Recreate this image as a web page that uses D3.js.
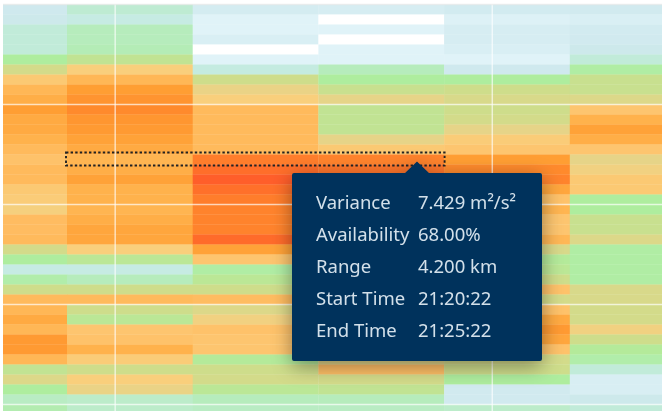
<!DOCTYPE html>
<html>
<head>
<meta charset="utf-8">
<script src="https://cdn.jsdelivr.net/npm/d3@7"></script>
<style>
  html, body { margin: 0; padding: 0; background: #fff; overflow: hidden; }
  svg { display: block; }
</style>
</head>
<body>
<div id="chart"></div>
<script>
// variance per range gate, top row first, one array per 5 minute scan
const scan1 = [2.0,2.1,2.6,2.6,2.6,3.5,4.1,5.2,5.8,6.1,6.5,6.2,6.2,6.0,5.7,5.4,5.7,5.7,5.2,5.1,4.9,5.6,5.6,5.7,4.1,3.5,2.4,3.3,4.0,5.7,5.8,6.2,5.8,6.6,6.6,5.8,3.8,4.3,3.5,2.9,3.2];
const scan2 = [2.7,2.4,3.0,3.0,3.1,3.8,5.0,5.8,6.5,6.75,7.0,6.7,6.6,6.4,6.2,5.9,6.1,6.4,6.0,6.0,5.9,6.1,6.3,6.3,5.0,3.7,2.4,3.0,4.0,5.7,4.0,3.7,5.3,5.4,6.0,5.1,4.0,5.0,4.6,2.8,2.8];
const scan3 = [1.7,1.0,1.0,1.4,0,1.0,2.5,4.0,4.6,5.0,5.7,5.7,5.7,5.7,5.7,7.2,7.429,7.8,7.4,7.2,7.1,7.1,7.1,7.5,6.4,5.3,3.4,3.7,4.0,5.6,4.3,4.8,5.4,5.3,5.3,3.6,4.0,4.1,3.7,3.0,2.9];
const scan4 = [1.6,0,1.0,0,1.0,1.0,3.0,3.5,3.9,4.5,3.8,3.8,3.8,4.5,5.2,7.1,7.3,7.6,7.2,7.0,6.8,6.6,6.4,6.2,5.5,5.0,4.6,4.4,4.2,4.2,4.6,5.0,5.2,5.2,4.8,4.4,5.5,4.1,3.8,3.0,2.9];
const scan5 = [1.8,1.2,1.6,1.6,1.4,1.0,2.0,3.5,4.0,4.2,4.0,4.1,4.5,5.1,5.3,6.5,7.0,7.1,6.3,5.4,5.9,5.3,5.3,5.8,4.2,3.6,3.7,4.0,5.4,4.1,5.4,6.2,6.6,6.3,5.4,4.1,4.0,3.5,1.9,1.9,2.8];
const scan6 = [1.9,1.4,1.8,1.9,2.1,2.6,3.4,3.9,3.9,4.3,5.3,6.0,6.4,6.1,5.3,4.5,4.8,5.2,5.2,3.5,3.5,3.9,3.9,4.3,3.4,3.4,3.4,3.4,4.2,4.2,4.1,4.1,4.8,4.0,3.6,3.3,2.6,1.5,1.5,2.1,2.6];
const scans = [scan1, scan2, scan3, scan4, scan5, scan6];

// scan start times, the first and last are cut by the plot edges
const scanStarts = ["21:10:32", "21:13:05", "21:18:05", "21:23:05", "21:28:05", "21:33:05"];
const plotEnd = "21:36:47";
const timeTicks = ["21:15:00", "21:30:00"];
const gateTicks = [0, 10, 20, 30, 40];

// colour ramp for the variance values
const rampValues = [0, 1, 2, 2.5, 3, 3.5, 4, 4.5, 5, 5.5, 6, 6.5, 7, 7.429, 8];
const rampColors = ["#ffffff", "#e0f3f8", "#cfe9ee", "#c4ebe0", "#b6ecbc", "#aeed9e", "#cedd8b", "#e6d488", "#f9cf7c", "#ffbf66", "#ffb24c", "#ff9e33", "#ff8a2c", "#ff6e2a", "#ff562a"];

// hovered box and tooltip
const hoverScans = [1, 4];
const hoverGates = [15, 16];
const tipRows = ["Variance", "Availability", "Range", "Start Time", "End Time"];
const tipValues = ["7.429 m\u00b2/s\u00b2", "68.00%", "4.200 km", "21:20:22", "21:25:22"];

const width = 662, height = 411;
const parse = d3.timeParse("%H:%M:%S");

const svg = d3.select("#chart").append("svg")
  .attr("width", width)
  .attr("height", height);

const defs = svg.append("defs");
const shadow = defs.append("filter").attr("id", "tipShadow")
  .attr("x", "-20%").attr("y", "-20%").attr("width", "140%").attr("height", "140%");
shadow.append("feDropShadow")
  .attr("dx", 0).attr("dy", 5).attr("stdDeviation", 10)
  .attr("flood-color", "#000").attr("flood-opacity", 0.4);

const x = d3.scaleTime()
  .domain([parse("21:13:05"), parse("21:18:05")])
  .range([67, 192.7]);
const y = d3.scaleLinear().domain([0, 10]).range([4.5, 104.5]);
const color = d3.scaleLinear().domain(rampValues).range(rampColors).clamp(true);

const main = svg.append("g").style("filter", "blur(0.6px)");

// heat map cells
const cols = main.selectAll(".scan")
  .data(scans)
  .enter()
  .append("g")
  .attr("class", "scan");

cols.selectAll("rect")
  .data((d, i) => d.map((v, gate) => ({ v, gate, col: i })))
  .enter()
  .append("rect")
  .attr("x", d => d.col === 0 ? 3 : x(parse(scanStarts[d.col])))
  .attr("width", d => {
    const left = d.col === 0 ? 3 : x(parse(scanStarts[d.col]));
    const right = d.col === scans.length - 1 ? x(parse(plotEnd)) : x(parse(scanStarts[d.col + 1]));
    return right - left + 0.3;
  })
  .attr("y", d => y(d.gate))
  .attr("height", d => y(d.gate + 1) - y(d.gate) + 0.3)
  .attr("fill", d => color(d.v));

// grid lines
main.selectAll(".grid-x")
  .data(timeTicks)
  .enter()
  .append("line")
  .attr("x1", d => x(parse(d)))
  .attr("x2", d => x(parse(d)))
  .attr("y1", 4)
  .attr("y2", height)
  .attr("stroke", "#fff")
  .attr("stroke-opacity", 0.65)
  .attr("stroke-width", 1.5);

main.selectAll(".grid-y")
  .data(gateTicks)
  .enter()
  .append("line")
  .attr("x1", 3)
  .attr("x2", width)
  .attr("y1", d => y(d))
  .attr("y2", d => y(d))
  .attr("stroke", d => d === 0 ? "#e8e8e8" : "#fff")
  .attr("stroke-opacity", 0.65)
  .attr("stroke-width", 1.5);

// dotted box round the hovered cell
main.append("rect")
  .attr("x", x(parse(scanStarts[hoverScans[0]])) - 1)
  .attr("width", x(parse(scanStarts[hoverScans[1]])) - x(parse(scanStarts[hoverScans[0]])) + 1.5)
  .attr("y", y(hoverGates[0]) - 2)
  .attr("height", y(hoverGates[1]) - y(hoverGates[0]) + 3)
  .attr("fill", "none")
  .attr("stroke", "#222")
  .attr("stroke-width", 1.9)
  .attr("stroke-dasharray", "2.4 2.2");

// tooltip
const tip = main.append("g").attr("filter", "url(#tipShadow)");
tip.append("path")
  .attr("d", "M292,175 a2,2 0 0 1 2,-2 H405 L417,161.5 L429,173 H540 a2,2 0 0 1 2,2 V359 a2,2 0 0 1 -2,2 H294 a2,2 0 0 1 -2,-2 Z")
  .attr("fill", "#00335c");

const tipFont = "'Noto Sans', sans-serif";
tip.selectAll(".tip-label")
  .data(tipRows)
  .enter()
  .append("text")
  .attr("x", 316)
  .attr("y", (d, i) => 208.7 + i * 32)
  .attr("fill", "#d3e0ea")
  .style("font-family", tipFont)
  .style("font-size", "18.5px")
  .text(d => d);

tip.selectAll(".tip-value")
  .data(tipValues)
  .enter()
  .append("text")
  .attr("x", 418)
  .attr("y", (d, i) => 208.7 + i * 32)
  .attr("fill", "#d3e0ea")
  .style("font-family", tipFont)
  .style("font-size", "18.5px")
  .text(d => d);
</script>
</body>
</html>
